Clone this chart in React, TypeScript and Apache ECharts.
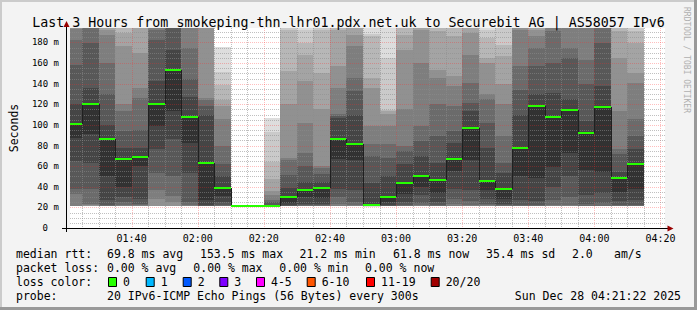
import React, { useEffect, useRef } from "react";
import * as echarts from "echarts";

// ---------- data ----------
const windowStart = "01:21:22";
const windowEnd = "04:21:22";

const slotStarts = [
  "01:20", "01:25", "01:30", "01:35", "01:40", "01:45", "01:50", "01:55",
  "02:00", "02:05", "02:10", "02:15", "02:20", "02:25", "02:30", "02:35",
  "02:40", "02:45", "02:50", "02:55", "03:00", "03:05", "03:10", "03:15",
  "03:20", "03:25", "03:30", "03:35", "03:40", "03:45", "03:50", "03:55",
  "04:00", "04:05", "04:10",
];
const slotMinutes = 5;

const medianRtt = [
  100.5, 120.5, 86.6, 67.3, 69.2, 120.5, 153.5, 107.2, 62.8, 39.2,
  21.2, 21.2, 21.2, 29.6, 36.7, 39.2, 86, 81.8, 22.6, 29.6,
  44, 50.8, 46.7, 67.3, 97.3, 46, 38.3, 78, 118.2, 107.3,
  114.6, 92.5, 117.8, 48.9, 61.8,
];

// 20 sorted ping RTTs (ms) per 5-minute slot
const pingRtts = [
  [21, 21, 21, 21.2, 21.3, 21.5, 32.8, 37.6, 65, 87.6, 100.5, 119.8, 158.5, 182.7, 193.5, 205, 215, 225, 240, 260],
  [21, 21, 21, 21.2, 21.5, 22, 23, 37.6, 63.4, 90.8, 120.5, 136, 179.5, 194, 205, 215, 225, 240, 260, 280],
  [21, 21, 21, 21, 21.2, 21.4, 21.6, 22, 27.4, 50, 86.6, 100, 129.5, 160.4, 187, 192, 200, 210, 220, 240],
  [21, 21, 21, 21, 21.2, 21.5, 22, 25, 30, 39.6, 67.3, 77.9, 94, 113.4, 119.8, 176.3, 189, 198, 210, 225],
  [21, 21, 21, 21, 21.2, 21.5, 22, 23, 28, 60, 69.2, 78, 95, 126, 135.6, 170, 200, 210, 220, 240],
  [21, 21, 21, 21.2, 21.5, 28, 37, 53.7, 76.3, 98.9, 120.5, 142.4, 182.7, 192.4, 205, 215, 225, 240, 260, 280],
  [21, 21, 21, 21.2, 21.5, 25, 31.2, 50.5, 86, 113.4, 153.5, 173, 194, 205, 215, 225, 240, 260, 280, 300],
  [21, 21, 21, 21, 21.2, 21.5, 22, 25, 53, 82.8, 107.2, 127, 145, 174.7, 205, 215, 225, 240, 260, 280],
  [21, 21, 21, 21, 21, 21.2, 21.4, 21.7, 22, 27.4, 62.8, 110, 118.2, 124, 126.3, 200, 210, 220, 235, 250],
  [21, 21, 21, 21, 21.2, 21.5, 21.8, 22, 25, 30.6, 39.2, 50, 62, 80, 105.3, 118.2, 124, 138.6, 151.5, 175.6],
  [20.8, 20.9, 20.9, 21, 21, 21, 21.1, 21.1, 21.1, 21.2, 21.2, 21.2, 21.3, 21.3, 21.3, 21.4, 21.4, 21.5, 21.6, 21.8],
  [20.8, 20.9, 21, 21, 21, 21.1, 21.1, 21.1, 21.2, 21.2, 21.2, 21.3, 21.3, 21.3, 21.4, 21.4, 21.5, 21.6, 21.7, 22],
  [20.8, 20.9, 21, 21, 21, 21.1, 21.1, 21.1, 21.2, 21.2, 21.2, 22, 25, 27, 32, 36, 48, 64.4, 93.4, 106.5],
  [21, 21, 21, 21, 21, 21.2, 21.4, 21.6, 22, 24, 29.6, 38.6, 51.5, 66, 68, 119.8, 152, 192, 200, 215],
  [21, 21, 21, 21, 21, 21.2, 21.4, 22, 23, 30, 36.7, 45, 60, 73, 101.6, 142.4, 168, 179.5, 192.4, 200],
  [21, 21, 21, 21, 21, 21.2, 21.4, 22, 23, 29, 39.2, 45, 52, 58, 60.2, 115, 150.5, 192.4, 200, 215],
  [21, 21, 21, 21, 21.2, 21.5, 23, 30, 37.6, 66.6, 86, 107, 109, 111, 136, 157, 192.4, 200, 210, 225],
  [21, 21, 21, 21, 21.2, 21.5, 22, 25, 37, 66, 81.8, 110, 132.7, 145.6, 176.3, 187.5, 200, 210, 225, 240],
  [20.8, 20.9, 21, 21, 21, 21.1, 21.2, 21.3, 21.5, 21.8, 22.6, 44, 69.9, 81.2, 98.9, 136, 145.6, 186, 188, 200],
  [21, 21, 21, 21, 21, 21.1, 21.2, 21.4, 22, 25, 29.6, 50.5, 68.3, 81.2, 98.9, 110.2, 113.4, 114, 165, 200],
  [21, 21, 21, 21, 21, 21.2, 21.4, 22, 25, 32.8, 44, 61.8, 74.7, 79.5, 115, 173, 187.5, 196, 205, 215],
  [21, 21, 21, 21, 21.2, 21.4, 22, 24, 32, 40.2, 50.8, 69.9, 84.4, 98.9, 160, 192.4, 200, 210, 220, 235],
  [21, 21, 21, 21, 21, 21.2, 21.5, 22, 25, 34.4, 46.7, 63.4, 89.2, 119.8, 145.6, 153.7, 190.8, 198, 210, 225],
  [21, 21, 21, 21, 21.2, 21.5, 23, 28, 37.6, 55.4, 67.3, 82.8, 94, 118.2, 137.6, 147.2, 185.9, 198, 210, 225],
  [21, 21, 21, 21, 21.2, 21.5, 22, 26, 37, 66, 97.3, 113.4, 121.4, 140.8, 168.2, 189.2, 200, 210, 225, 240],
  [21, 21, 21, 21, 21, 21.2, 22, 23, 28, 37, 46, 78, 102, 124.7, 129.5, 160.1, 165, 184.3, 192, 200],
  [21, 21, 21, 21, 21, 21.2, 21.5, 22, 23, 27.9, 38.3, 53.7, 63.4, 89.2, 119.8, 139.2, 166.6, 177.9, 198, 210],
  [21, 21, 21, 21, 21, 21.2, 21.5, 22, 27.4, 50, 78, 110, 134.3, 156.9, 192.4, 200, 210, 220, 235, 250],
  [21, 21, 21, 21, 21, 21.2, 21.5, 22, 26, 48.9, 118.2, 129.5, 156.9, 174.6, 185.9, 192.4, 200, 210, 225, 240],
  [21, 21, 21, 21, 21.2, 21.5, 22, 27.4, 40, 59.6, 107.3, 131, 160, 190.8, 200, 210, 220, 235, 250, 270],
  [21, 21, 21, 21, 21.2, 21.5, 22, 30, 50, 72.5, 114.6, 124.7, 165, 174.6, 200, 210, 220, 235, 250, 270],
  [21, 21, 21, 21, 21, 21.2, 21.5, 23, 32, 56.4, 92.5, 103.7, 139.2, 163.4, 194, 200, 210, 220, 235, 250],
  [21, 21, 21, 21, 21, 21.2, 21.5, 24, 33.8, 54.8, 117.8, 137.6, 179.5, 200, 210, 220, 235, 250, 270, 290],
  [21, 21, 21, 21, 21, 21.2, 21.5, 22, 26, 35.4, 48.9, 54.7, 71.5, 76.3, 113.4, 165, 190.8, 198, 210, 225],
  [21, 21, 21, 21, 21, 21.2, 21.5, 22, 27, 38, 61.8, 76.3, 89.2, 105.3, 140.8, 150.5, 179.5, 190.8, 198, 210],
];

const xTickLabels = ["01:40", "02:00", "02:20", "02:40", "03:00", "03:20", "03:40", "04:00", "04:20"];
const yMax = 194;
const yInterval = 20;

const titleText = "Last 3 Hours from smokeping-thn-lhr01.pdx.net.uk to Securebit AG | AS58057 IPv6";
const rttStats = ["69.8 ms avg", "153.5 ms max", "21.2 ms min", "61.8 ms now", "35.4 ms sd", "2.0", "am/s"];
const lossStats = ["0.00 % avg", "0.00 % max", "0.00 % min", "0.00 % now"];
const lossLabels = ["0", "1", "2", "3", "4-5", "6-10", "11-19", "20/20"];
const lossColors = ["#26ff00", "#00b8ff", "#0059ff", "#7e00ff", "#ff00ff", "#ff5500", "#ff0000", "#a10000"];
const probeText = "20 IPv6-ICMP Echo Pings (56 Bytes) every 300s";
const stampText = "Sun Dec 28 04:21:22 2025";

// ---------- helpers / styles ----------
const FONT = "'DejaVu Sans Mono', monospace";
const smokeShades = ["#dddddd", "#cacaca", "#b7b7b7", "#a4a4a4", "#919191", "#7e7e7e", "#6b6b6b", "#585858", "#454545", "#323232"];
const MINOR_GRID = "rgba(140,140,140,0.55)";
const MAJOR_GRID = "rgba(255,40,40,0.3)";
const ARROW = "#990000";

function toMinutes(s: string): number {
  const parts = s.split(":").map(Number);
  return parts[0] * 60 + parts[1] + (parts[2] || 0) / 60;
}

const tMin = toMinutes(windowStart);
const tMax = toMinutes(windowEnd);
const xTickMinutes = xTickLabels.map(toMinutes);

function buildOption() {
  const smokeData = slotStarts.map((s, i) => {
    const a = toMinutes(s);
    return [a, a + slotMinutes, ...pingRtts[i]];
  });
  const medianData = slotStarts.map((s, i) => {
    const a = toMinutes(s);
    return [a, a + slotMinutes, medianRtt[i], i > 0 ? medianRtt[i - 1] : medianRtt[i]];
  });
  const vGrid: number[][] = [];
  for (let t = Math.ceil(tMin / 5) * 5; t <= tMax; t += 5) vGrid.push([t, t % 20 === 0 ? 1 : 0]);
  const hGrid: number[][] = [];
  for (let v = 5; v <= yMax; v += 5) hGrid.push([v, v % yInterval === 0 ? 1 : 0]);

  const gL = 67, gT = 28, gW = 598, gH = 200;

  const legendX = [107, 200, 299.5, 393, 486, 572, 614];
  const lossX = [107, 193.3, 279.3, 365];
  const boxX = [108, 145.7, 182.7, 219.3, 256, 306.7, 366, 430.7];
  const rows = [254, 268.3, 282, 296];
  const txt = (x: number, y: number, text: string, extra: any = {}) => ({
    type: "text",
    x,
    y,
    silent: true,
    style: {
      text,
      fill: "#000",
      fontFamily: FONT,
      fontSize: 11.5,
      textAlign: "left",
      textVerticalAlign: "middle",
      align: "left",
      verticalAlign: "middle",
      ...extra,
    },
  });

  const graphics: any[] = [
    { type: "rect", shape: { x: 0, y: 0, width: 697, height: 2 }, style: { fill: "#cbcbcb" }, silent: true },
    { type: "rect", shape: { x: 0, y: 0, width: 2, height: 310 }, style: { fill: "#cbcbcb" }, silent: true },
    { type: "rect", shape: { x: 0, y: 307, width: 697, height: 3 }, style: { fill: "#999999" }, silent: true },
    { type: "rect", shape: { x: 694, y: 0, width: 3, height: 310 }, style: { fill: "#999999" }, silent: true },
    // axis extension and arrows
    { type: "line", shape: { x1: 62, y1: 228.5, x2: 668, y2: 228.5 }, style: { stroke: "#000", lineWidth: 1 }, silent: true, z: 20 },
    { type: "line", shape: { x1: 66.5, y1: 25, x2: 66.5, y2: 232 }, style: { stroke: "#000", lineWidth: 1 }, silent: true, z: 20 },
    { type: "polygon", shape: { points: [[66.5, 21], [63.5, 27], [69.5, 27]] }, style: { fill: ARROW }, silent: true, z: 21 },
    { type: "polygon", shape: { points: [[673.5, 228.5], [667.5, 225.5], [667.5, 231.5]] }, style: { fill: ARROW }, silent: true, z: 21 },
    txt(686, 60, "RRDTOOL / TOBI OETIKER", { fill: "#b0b0b0", fontSize: 8, textAlign: "center", align: "center" }),
  ];
  graphics[graphics.length - 1].rotation = -Math.PI / 2;

  graphics.push(txt(16, rows[0], "median rtt:"));
  rttStats.forEach((s, i) => graphics.push(txt(legendX[i], rows[0], s)));
  graphics.push(txt(16, rows[1], "packet loss:"));
  lossStats.forEach((s, i) => graphics.push(txt(lossX[i], rows[1], s)));
  graphics.push(txt(16, rows[2], "loss color:"));
  lossLabels.forEach((s, i) => {
    graphics.push({
      type: "rect",
      shape: { x: boxX[i] + 0.5, y: rows[2] - 4.5, width: 8, height: 9 },
      style: { fill: lossColors[i], stroke: "#000", lineWidth: 1 },
      silent: true,
    });
    graphics.push(txt(boxX[i] + 15, rows[2], s));
  });
  graphics.push(txt(16, rows[3], "probe:"));
  graphics.push(txt(107, rows[3], probeText));
  graphics.push(txt(681, rows[3], stampText, { textAlign: "right", align: "right" }));

  return {
    animation: false,
    backgroundColor: "#f3f3f3",
    textStyle: { fontFamily: FONT },
    title: {
      text: titleText,
      left: "center",
      top: 11,
      textStyle: { fontFamily: FONT, fontSize: 13.3, fontWeight: "normal", color: "#000" },
    },
    grid: { left: gL, top: gT, width: gW, height: gH, show: true, backgroundColor: "#ffffff", borderWidth: 0 },
    xAxis: {
      type: "value",
      min: tMin,
      max: tMax,
      z: 10,
      axisLine: { show: false },
      axisTick: { show: false },
      splitLine: { show: false },
      axisLabel: {
        customValues: xTickMinutes,
        formatter: (v: number) => {
          const i = xTickMinutes.findIndex((m) => Math.abs(m - v) < 1e-6);
          return i >= 0 ? xTickLabels[i] : "";
        },
        fontFamily: FONT,
        fontSize: 10,
        color: "#000",
        margin: 5,
      },
    },
    yAxis: {
      type: "value",
      min: 0,
      max: yMax,
      interval: yInterval,
      z: 10,
      axisLine: { show: false },
      axisTick: { show: false },
      splitLine: { show: false },
      axisLabel: {
        showMaxLabel: false,
        formatter: (v: number) => (v === 0 ? "{z|0}" : `${v} m`),
        rich: { z: { fontFamily: FONT, fontSize: 9, color: "#000", padding: [0, 11, 0, 0] } },
        fontFamily: FONT,
        fontSize: 9,
        color: "#000",
        margin: 11,
      },
      name: "Seconds",
      nameLocation: "middle",
      nameRotate: 90,
      nameGap: 50,
      nameTextStyle: { fontFamily: FONT, fontSize: 11.5, color: "#000" },
    },
    series: [
      {
        type: "custom",
        name: "smoke",
        silent: true,
        z: 2,
        data: smokeData,
        renderItem: (params: any, api: any) => {
          const cs = params.coordSys;
          const top = cs.y;
          const bottom = cs.y + cs.height;
          const xa = Math.round(Math.max(api.coord([api.value(0), 0])[0], cs.x));
          const xb = Math.round(Math.min(api.coord([api.value(1), 0])[0], cs.x + cs.width));
          const children: any[] = [];
          for (let k = 0; k < 10; k++) {
            const lo = api.value(2 + k);
            const hi = api.value(2 + 19 - k);
            const yLo = Math.min(bottom, Math.round(api.coord([0, lo])[1]));
            const yHi = Math.max(top, Math.round(api.coord([0, hi])[1]));
            if (yLo - yHi > 0) {
              children.push({
                type: "rect",
                shape: { x: xa, y: yHi, width: xb - xa, height: yLo - yHi },
                style: { fill: smokeShades[k] },
              });
            }
          }
          return { type: "group", children };
        },
      },
      {
        type: "custom",
        name: "vgrid",
        silent: true,
        z: 3,
        data: vGrid,
        renderItem: (params: any, api: any) => {
          const cs = params.coordSys;
          const x = Math.round(api.coord([api.value(0), 0])[0]) + 0.5;
          const major = api.value(1) === 1;
          return {
            type: "line",
            shape: { x1: x, y1: cs.y, x2: x, y2: cs.y + cs.height },
            style: { stroke: major ? MAJOR_GRID : MINOR_GRID, lineWidth: 1, lineDash: [1, 1] },
          };
        },
      },
      {
        type: "custom",
        name: "hgrid",
        silent: true,
        z: 3,
        data: hGrid,
        renderItem: (params: any, api: any) => {
          const cs = params.coordSys;
          const y = Math.round(api.coord([tMin, api.value(0)])[1]) + 0.5;
          const major = api.value(1) === 1;
          return {
            type: "line",
            shape: { x1: cs.x, y1: y, x2: cs.x + cs.width, y2: y },
            style: { stroke: major ? MAJOR_GRID : MINOR_GRID, lineWidth: 1, lineDash: [1, 1] },
          };
        },
      },
      {
        type: "custom",
        name: "median",
        silent: true,
        z: 4,
        data: medianData,
        renderItem: (params: any, api: any) => {
          const cs = params.coordSys;
          const xa = Math.round(Math.max(api.coord([api.value(0), 0])[0], cs.x));
          const xb = Math.round(Math.min(api.coord([api.value(1), 0])[0], cs.x + cs.width));
          const y = Math.round(api.coord([0, api.value(2)])[1]);
          const yp = Math.round(api.coord([0, api.value(3)])[1]);
          const children: any[] = [];
          if (params.dataIndex > 0 && yp !== y) {
            children.push({
              type: "line",
              shape: { x1: xa + 0.5, y1: yp, x2: xa + 0.5, y2: y },
              style: { stroke: "#202020", lineWidth: 1 },
            });
          }
          children.push({
            type: "rect",
            shape: { x: xa, y: y - 1, width: xb - xa, height: 2 },
            style: { fill: lossColors[0] },
          });
          return { type: "group", children };
        },
      },
    ],
    graphic: { elements: graphics },
  };
}

export default function App() {
  const ref = useRef<HTMLDivElement>(null);
  useEffect(() => {
    document.body.style.margin = "0";
    const chart = echarts.init(ref.current!, null, { renderer: "svg" });
    chart.setOption(buildOption() as any);
    return () => chart.dispose();
  }, []);
  return <div ref={ref} style={{ width: 697, height: 310 }} />;
}
